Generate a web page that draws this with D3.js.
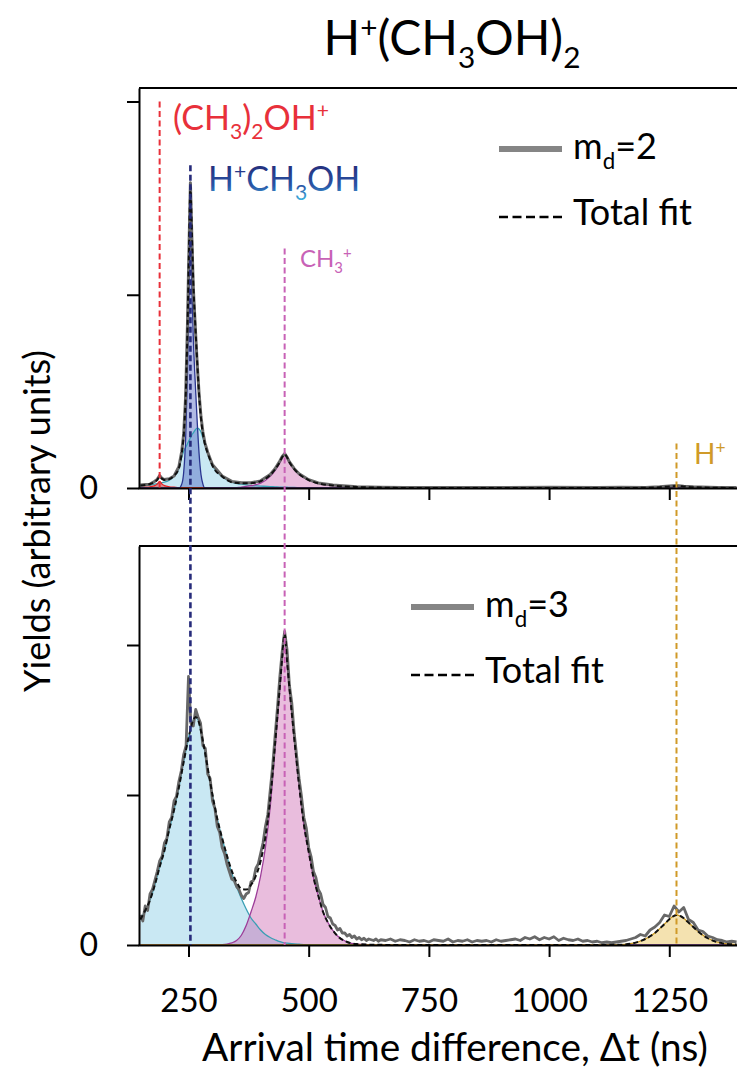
<!DOCTYPE html>
<html>
<head>
<meta charset="utf-8">
<script src="https://cdn.jsdelivr.net/npm/d3@7"></script>
<style>
  body { margin: 0; background: #fff; }
  svg { font-family: Lato, "Open Sans", sans-serif; font-weight: 400; }
</style>
</head>
<body>
<svg id="chart" width="737" height="1073"></svg>
<script>
// ---- values ----
let xTicks = [250, 500, 750, 1000, 1250];
let yTicks = [0, 1, 2];

// m_d = 2 : fit grid (ns), fit components and measured yield on the same grid
let tFit2 = [150,160,170,180,185,190,195,200,210,220,230,236,240,244,248,251,254,257,260,264,
  268,272,276,280,284,290,296,300,320,340,360,380,400,420,430,440,445,450,455,460,
  470,480,500,520,550,600,650,700,800,900,1000,1100,1150,1200,1230,1250,1265,1280,1300,1350,1390];
let fitRed2 = [0.003,0.004,0.006,0.012,0.02,0.034,0.02,0.012,0.006,0.004,0.002,0,0,0,0,0,0,0,0,0,
  0,0,0,0,0,0,0,0,0,0,0,0,0,0,0,0,0,0,0,0,
  0,0,0,0,0,0,0,0,0,0,0,0,0,0,0,0,0,0,0,0,0];
let fitNavy2 = [0,0,0,0,0,0,0,0,0,0,0,0.02,0.08,0.25,0.6,0.98,1.3,1.05,0.78,0.55,
  0.35,0.18,0.07,0.02,0,0,0,0,0,0,0,0,0,0,0,0,0,0,0,0,
  0,0,0,0,0,0,0,0,0,0,0,0,0,0,0,0,0,0,0,0,0];
let fitCyan2 = [0.01,0.012,0.015,0.02,0.022,0.025,0.028,0.03,0.04,0.06,0.1,0.16,0.19,0.21,0.23,0.245,0.26,0.275,0.285,0.3,
  0.31,0.305,0.29,0.26,0.23,0.18,0.14,0.115,0.06,0.03,0.02,0.013,0.01,0.007,0.006,0.005,0.005,0.004,0.004,0.003,
  0.003,0.002,0.001,0,0,0,0,0,0,0,0,0,0,0,0,0,0,0,0,0,0];
let fitPink2 = [0,0,0,0,0,0,0,0,0,0,0,0,0,0,0,0,0,0,0,0,
  0,0,0,0,0,0,0,0,0,0,0.005,0.012,0.025,0.06,0.09,0.13,0.155,0.17,0.155,0.13,
  0.095,0.07,0.04,0.024,0.013,0.005,0.002,0,0,0,0,0,0,0,0,0,0,0,0,0,0];
let fitGold2 = [0,0,0,0,0,0,0,0,0,0,0,0,0,0,0,0,0,0,0,0,
  0,0,0,0,0,0,0,0,0,0,0,0,0,0,0,0,0,0,0,0,
  0,0,0,0,0,0,0,0,0,0,0,0,0,0.001,0.004,0.008,0.01,0.008,0.004,0.001,0];
let data2 = [0.015,0.018,0.02,0.035,0.045,0.065,0.05,0.044,0.048,0.062,0.11,0.19,0.28,0.47,0.86,1.24,1.58,1.3,1.04,0.84,
  0.65,0.49,0.37,0.29,0.235,0.185,0.145,0.12,0.062,0.034,0.027,0.027,0.037,0.07,0.1,0.14,0.163,0.178,0.16,0.135,
  0.1,0.074,0.043,0.026,0.015,0.007,0.004,0.003,0.002,0.003,0.004,0.003,0.004,0.003,0.006,0.01,0.013,0.009,0.006,0.003,0.002];

// m_d = 3 : fit grid (ns) and fit components
let tFit3 = [150,160,170,180,190,200,210,220,230,240,250,260,265,270,280,290,300,310,320,330,
  340,350,360,370,380,390,400,410,420,430,440,445,450,455,460,470,480,490,500,510,
  520,530,540,560,580,600,650,700,800,900,1000,1100,1150,1175,1200,1220,1240,1255,1265,1275,
  1290,1310,1330,1360,1390];
let fitCyan3 = [0.17,0.23,0.3,0.4,0.52,0.63,0.77,0.9,1.05,1.22,1.38,1.5,1.52,1.5,1.36,1.18,1.0,0.84,0.71,0.59,
  0.48,0.39,0.31,0.24,0.18,0.14,0.1,0.07,0.05,0.035,0.022,0.018,0.015,0.012,0.01,0.007,0.005,0.003,0.002,0.001,
  0,0,0,0,0,0,0,0,0,0,0,0,0,0,0,0,0,0,0,0,
  0,0,0,0,0];
let fitPink3 = [0,0,0,0,0,0,0,0,0,0,0,0,0,0,0,0,0,0,0.002,0.006,
  0.014,0.03,0.065,0.13,0.22,0.32,0.46,0.65,0.92,1.3,1.7,1.9,2.06,1.88,1.7,1.37,1.06,0.8,0.62,0.45,
  0.33,0.22,0.15,0.06,0.02,0.006,0.001,0,0,0,0,0,0,0,0,0,0,0,0,0,
  0,0,0,0,0];
let fitGold3 = [0,0,0,0,0,0,0,0,0,0,0,0,0,0,0,0,0,0,0,0,
  0,0,0,0,0,0,0,0,0,0,0,0,0,0,0,0,0,0,0,0,
  0,0,0,0,0,0,0,0,0,0,0,0,0.002,0.012,0.04,0.08,0.14,0.185,0.2,0.19,
  0.15,0.09,0.045,0.012,0.003];

// m_d = 3 : measured yield, every 5 ns up to 650 then every 10 ns
let tData3 = d3.range(150, 651, 5).concat(d3.range(660, 1391, 10));
let data3 = [0.2,0.16,0.26,0.23,0.34,0.37,0.43,0.49,0.56,0.59,
  0.68,0.71,0.82,0.85,0.96,0.99,1.09,1.16,1.27,1.33,
  1.79,1.48,1.46,1.57,1.52,1.48,1.33,1.31,1.14,1.11,
  0.96,0.91,0.79,0.75,0.65,0.61,0.54,0.49,0.44,0.43,
  0.39,0.37,0.33,0.31,0.34,0.35,0.42,0.43,0.51,0.54,
  0.61,0.68,0.79,0.87,1.03,1.19,1.39,1.58,1.79,1.96,
  2.09,1.97,1.73,1.61,1.41,1.26,1.11,0.99,0.85,0.78,
  0.65,0.59,0.49,0.45,0.37,0.34,0.27,0.25,0.19,0.18,
  0.14,0.13,0.1,0.11,0.08,0.08,0.06,0.07,0.05,0.06,
  0.04,0.05,0.035,0.045,0.03,0.04,0.035,0.03,0.04,0.025,
  0.035,
  0.03,0.04,0.025,0.035,0.03,0.02,0.035,0.025,0.03,0.02,
  0.035,0.03,0.025,0.04,0.02,0.03,0.025,0.035,0.02,0.03,
  0.025,0.03,0.02,0.035,0.025,0.03,0.035,0.04,0.03,0.05,
  0.04,0.055,0.035,0.05,0.04,0.055,0.03,0.045,0.035,0.03,
  0.04,0.025,0.03,0.02,0.025,0.015,0.02,0.015,0.02,0.025,
  0.03,0.04,0.05,0.07,0.06,0.1,0.12,0.15,0.2,0.19,
  0.26,0.22,0.25,0.17,0.15,0.1,0.09,0.06,0.05,0.035,
  0.03,0.02,0.025,0.02];

// fragment markers: arrival time and top end of the dashed line (m_d=2 units)
let markerT = [190, 254, 450, 1265];
let markerTop = [2.0, 1.67, 1.24, 0.23];
let markerColors = ['#e8303a', '#262b7a', '#c862b6', '#d09a28'];

// ---- drawing ----
let svg = d3.select('#chart');
let x = d3.scaleLinear().domain([145, 1395]).range([138, 739]);
let yTop = d3.scaleLinear().domain([0, 2.07]).range([488, 88]);
let yBot = d3.scaleLinear().domain([0, 2.66]).range([945, 546]);

let defs = svg.append('defs');
let grad = defs.append('linearGradient').attr('id', 'blueGrad')
  .attr('gradientUnits', 'userSpaceOnUse')
  .attr('x1', 0).attr('y1', 166).attr('x2', 0).attr('y2', 202);
grad.append('stop').attr('offset', 0).attr('stop-color', '#24307e');
grad.append('stop').attr('offset', 0.55).attr('stop-color', '#2a55a6');
grad.append('stop').attr('offset', 1).attr('stop-color', '#40bde6');

function chemText(g, px, py, parts, size, fill, anchor){
  let t = g.append('text').attr('x', px).attr('y', py)
    .attr('font-size', size).attr('fill', fill)
    .attr('text-anchor', anchor || 'start');
  let shift = 0;
  parts.forEach(p => {
    let s = p[1] == 'sub' ? size * 0.27 : p[1] == 'sup' ? -size * 0.36 : 0;
    t.append('tspan')
      .attr('dy', s - shift)
      .attr('font-size', p[1] ? size * 0.62 : size)
      .text(p[0]);
    shift = s;
  });
  return t;
}

function drawPanel(y, tFit, comps, tData, data, dataWidth, top){
  let g = svg.append('g');

  comps.forEach(c => {
    let pts = tFit.map((t, i) => [t, c.vals[i]]);
    g.append('path')
      .datum(pts)
      .attr('fill', c.fill)
      .attr('stroke', 'none')
      .attr('d', d3.area().x(d => x(d[0])).y0(y(0)).y1(d => y(d[1])).curve(d3.curveMonotoneX));
  });
  comps.forEach(c => {
    let pts = tFit.map((t, i) => [t, c.vals[i]]);
    g.append('path')
      .datum(pts)
      .attr('fill', 'none')
      .attr('stroke', c.stroke)
      .attr('stroke-width', 1.3)
      .attr('d', d3.line().x(d => x(d[0])).y(d => y(d[1])).curve(d3.curveMonotoneX));
  });

  // measured yield
  g.append('path')
    .datum(tData.map((t, i) => [t, data[i]]))
    .attr('fill', 'none')
    .attr('stroke', '#686868')
    .attr('stroke-width', dataWidth)
    .attr('stroke-linejoin', 'round')
    .attr('d', d3.line().x(d => x(d[0])).y(d => y(d[1])));

  // total fit = sum of the components
  let total = tFit.map((t, i) => [t, d3.sum(comps, c => c.vals[i])]);
  g.append('path')
    .datum(total)
    .attr('fill', 'none')
    .attr('stroke', '#111')
    .attr('stroke-width', 2)
    .attr('stroke-dasharray', '5,3')
    .attr('d', d3.line().x(d => x(d[0])).y(d => y(d[1])).curve(d3.curveMonotoneX));

  // axes and frame
  let yAxis = g.append('g')
    .attr('transform', 'translate(139,0)')
    .call(d3.axisLeft(y).tickValues(yTicks).tickSize(12).tickSizeOuter(0).tickPadding(29)
      .tickFormat(d => d == 0 ? '0' : ''));
  yAxis.attr('color', '#000').style('font-size', '32px').attr('font-family', null);
  yAxis.selectAll('line').attr('stroke-width', 2);
  yAxis.select('.domain').attr('stroke-width', 2);

  let xAxis = g.append('g')
    .attr('transform', `translate(0,${y(0)})`)
    .call(d3.axisBottom(x).tickValues(xTicks).tickSize(12).tickSizeOuter(0)
      .tickFormat(top ? '' : d3.format('d')));
  xAxis.attr('color', '#000').style('font-size', '33px').attr('font-family', null);
  xAxis.selectAll('line').attr('stroke-width', 2);
  xAxis.select('.domain').attr('stroke-width', 2);
  xAxis.selectAll('text').attr('dy', null).attr('y', 67);

  g.append('line')
    .attr('x1', 139).attr('x2', 737)
    .attr('y1', y.range()[1]).attr('y2', y.range()[1])
    .attr('stroke', '#000').attr('stroke-width', 2);
  return g;
}

let comps2 = [
  {vals: fitCyan2, fill: 'rgba(100,190,220,0.35)', stroke: '#35a2b6'},
  {vals: fitPink2, fill: 'rgba(200,90,170,0.4)', stroke: '#9c3c98'},
  {vals: fitGold2, fill: 'rgba(230,190,80,0.45)', stroke: '#c8961e'},
  {vals: fitRed2, fill: 'rgba(230,40,40,0.5)', stroke: '#e82020'},
  {vals: fitNavy2, fill: 'rgba(70,90,190,0.42)', stroke: '#2a3590'}
];
let comps3 = [
  {vals: fitCyan3, fill: 'rgba(100,190,220,0.35)', stroke: '#3a9fb4'},
  {vals: fitPink3, fill: 'rgba(200,90,170,0.4)', stroke: '#9c3c98'},
  {vals: fitGold3, fill: 'rgba(230,190,80,0.45)', stroke: '#c8961e'}
];

drawPanel(yTop, tFit2, comps2, tFit2, data2, 3, true);
drawPanel(yBot, tFit3, comps3, tData3, data3, 2.8, false);

// dashed fragment markers across the panels
let mk = svg.append('g');
markerT.forEach((t, i) => {
  mk.append('line')
    .attr('x1', x(t)).attr('x2', x(t))
    .attr('y1', yTop(markerTop[i]))
    .attr('y2', i == 0 ? yTop(0) : yBot(0))
    .attr('stroke', markerColors[i])
    .attr('stroke-width', i == 1 ? 2.6 : 2)
    .attr('stroke-dasharray', '6,3.5');
});

// labels
chemText(svg, 173, 130, [['(CH'], ['3', 'sub'], [')'], ['2', 'sub'], ['OH'], ['+', 'sup']], 34, markerColors[0]);
chemText(svg, 208, 191, [['H'], ['+', 'sup'], ['CH'], ['3', 'sub'], ['OH']], 34, 'url(#blueGrad)');
chemText(svg, 300, 267, [['CH'], ['3', 'sub'], ['+', 'sup']], 24, markerColors[2]);
chemText(svg, 694, 464, [['H'], ['+', 'sup']], 28, markerColors[3]);

// title
chemText(svg, 452, 55, [['H'], ['+', 'sup'], ['(CH'], ['3', 'sub'], ['OH)'], ['2', 'sub']], 48, '#000', 'middle');

// legends
function legend(lx, ly, label){
  svg.append('line')
    .attr('x1', lx).attr('x2', lx + 63).attr('y1', ly).attr('y2', ly)
    .attr('stroke', '#858585').attr('stroke-width', 6);
  chemText(svg, lx + 74, ly + 10, [['m'], ['d', 'sub'], [label]], 36, '#000');
  svg.append('line')
    .attr('x1', lx).attr('x2', lx + 63).attr('y1', ly + 68).attr('y2', ly + 68)
    .attr('stroke', '#000').attr('stroke-width', 2.5).attr('stroke-dasharray', '9,4.5');
  svg.append('text')
    .attr('x', lx + 74).attr('y', ly + 76)
    .attr('font-size', 36)
    .text('Total fit');
}
legend(499, 149, '=2');
legend(411, 607, '=3');

// axis titles
let xt = svg.append('text')
  .attr('x', 455).attr('y', 1061)
  .attr('text-anchor', 'middle')
  .attr('font-size', 39)
  .text('Arrival time difference, Δt (ns)');
let yt = svg.append('text')
  .attr('transform', 'translate(50,521) rotate(-90)')
  .attr('text-anchor', 'middle')
  .attr('font-size', 36)
  .text('Yields (arbitrary units)');

// match the measured widths of the two long titles
function fitWidth(t, w){
  let cur = t.node().getComputedTextLength();
  let fs = +t.attr('font-size');
  t.attr('font-size', fs * w / cur);
}
fitWidth(xt, 506);
fitWidth(yt, 342);
</script>
</body>
</html>
